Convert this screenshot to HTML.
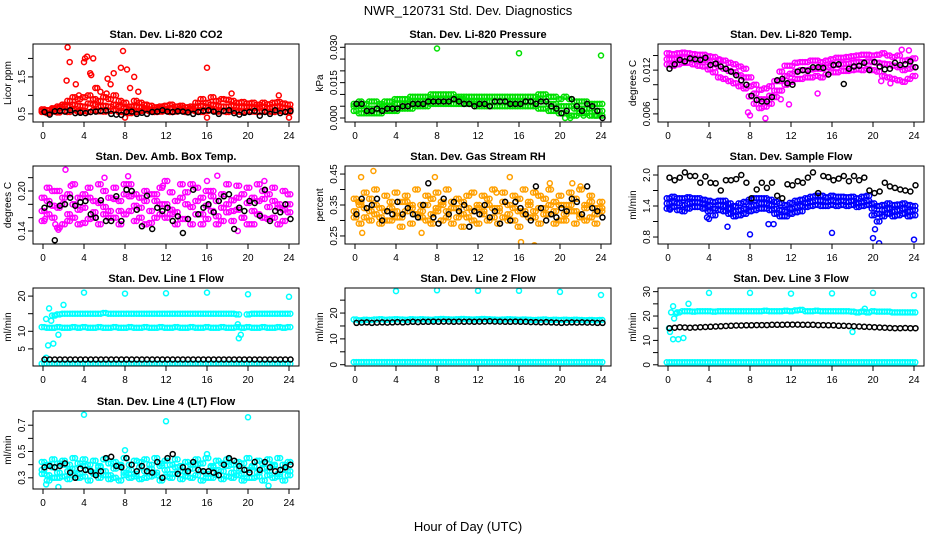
<!DOCTYPE html>
<html><head><meta charset="utf-8"><style>
body{margin:0;background:#fff;}
svg{display:block;font-family:"Liberation Sans",sans-serif;}
</style></head><body>
<svg id="chart" width="936" height="540" viewBox="0 0 936 540" xmlns="http://www.w3.org/2000/svg">
<rect width="936" height="540" fill="#fff"/>
<text x="468" y="15" text-anchor="middle" font-size="13">NWR_120731  Std. Dev. Diagnostics</text>
<text x="468" y="531" text-anchor="middle" font-size="13">Hour of Day (UTC)</text>
</svg>
<script>
const hours = Array.from({length:49},(_,i)=>i*0.5);
const xTicks = [0,4,8,12,16,20,24];

// Panel 1 CO2
const co2RedA=[0.55,0.52,0.56,0.54,0.58,0.55,0.6,0.56,0.58,0.55,0.6,0.57,0.56,0.58,0.6,0.55,0.56,0.52,0.55,0.58,0.6,0.57,0.55,0.56,0.58,0.55,0.56,0.58,0.55,0.6,0.57,0.55,0.58,0.6,0.56,0.57,0.55,0.58,0.56,0.55,0.58,0.56,0.55,0.57,0.56,0.55,0.58,0.56,0.55];
const co2RedB=[0.62,0.6,0.65,0.7,0.75,0.85,0.95,0.9,0.95,1.0,0.9,0.85,0.95,0.9,1.0,0.85,0.8,0.7,0.85,0.8,0.75,0.72,0.68,0.7,0.72,0.75,0.7,0.72,0.68,0.7,0.8,0.9,0.8,0.95,0.85,0.9,0.88,0.85,0.8,0.82,0.78,0.8,0.75,0.8,0.76,0.8,0.82,0.78,0.75];
const co2RedC=[0.58,0.6,0.62,0.65,0.7,0.7,0.75,0.72,0.7,0.78,0.75,0.7,0.72,0.7,0.75,0.7,0.65,0.62,0.7,0.68,0.65,0.62,0.62,0.65,0.63,0.66,0.62,0.65,0.6,0.64,0.7,0.72,0.68,0.75,0.72,0.7,0.7,0.72,0.7,0.68,0.7,0.66,0.68,0.7,0.66,0.68,0.7,0.66,0.64];
const co2OutHours=[2.4,2.6,4.0,4.1,4.3,4.6,4.9,5.1,5.6,6.3,6.6,6.9,7.6,7.8,8.2,8.9,9.3,2.3,3.2,3.5,4.7,5.3,6.2,8.5,16,18.4,23,24,16,8];
const co2OutVals=[2.3,1.9,1.9,2.0,2.05,1.6,2.0,1.2,1.1,1.45,1.3,1.6,1.75,2.2,1.7,1.5,1.1,1.4,1.3,1.0,1.55,1.2,1.05,1.2,1.75,1.05,1.0,0.4,0.4,0.4];
const co2Black=[0.55,0.48,0.57,0.58,0.56,0.6,0.52,0.53,0.52,0.55,0.56,0.58,0.59,0.5,0.48,0.47,0.55,0.56,0.5,0.53,0.5,0.55,0.56,0.6,0.56,0.55,0.57,0.56,0.54,0.5,0.55,0.58,0.6,0.56,0.5,0.58,0.6,0.52,0.48,0.53,0.55,0.58,0.45,0.55,0.5,0.6,0.52,0.55,0.58];

// Panel 2 Pressure
const presLo=[.003,.002,.002,.002,.002,.002,.003,.003,.003,.004,.004,.004,.005,.005,.005,.006,.006,.006,.006,.006,.006,.006,.006,.006,.005,.005,.005,.005,.005,.005,.005,.005,.005,.005,.005,.005,.004,.004,.003,.003,.002,.002,.001,.001,.002,.002,.001,.001,.001];
const presHi=[.006,.007,.006,.007,.007,.006,.007,.007,.008,.008,.008,.009,.009,.009,.009,.010,.010,.010,.010,.010,.009,.009,.009,.009,.009,.009,.009,.009,.009,.009,.009,.009,.009,.009,.009,.009,.010,.010,.009,.009,.008,.009,.008,.007,.007,.007,.006,.006,.006];
const presMid=[.005,.005,.004,.004,.004,.005,.005,.005,.006,.006,.006,.007,.007,.007,.007,.008,.008,.008,.008,.008,.008,.008,.007,.007,.007,.007,.007,.007,.007,.007,.007,.007,.007,.007,.007,.007,.008,.007,.006,.006,.005,.005,.005,.004,.004,.004,.004,.003,.003];
const presOutHours=[8,16,24,20.5,21,22.3,23.5];
const presOutVals=[.0295,.0275,.0265,.000,.000,.001,.001];
const presBlack=[.006,.006,.003,.003,.004,.003,.004,.004,.004,.005,.005,.006,.006,.006,.007,.007,.007,.007,.007,.008,.007,.006,.006,.005,.006,.006,.005,.007,.007,.007,.006,.006,.006,.007,.007,.006,.007,.007,.005,.004,.002,.003,.008,.005,.003,.006,.005,.003,.000];

// Panel 3 Li-820 Temp
const tempMid=[.0135,.0135,.0136,.0137,.0137,.0136,.0135,.0134,.0131,.0128,.0125,.0122,.0119,.0117,.0113,.0110,.0098,.0088,.0080,.0080,.0085,.0092,.0105,.0112,.0115,.0118,.0120,.0120,.0121,.0122,.0122,.0124,.0126,.0127,.0128,.0129,.0130,.0131,.0131,.0132,.0131,.0130,.0129,.0128,.0126,.0124,.0120,.0122,.0124];
const tempHi=[.0143,.0142,.0143,.0144,.0143,.0142,.0141,.0141,.0139,.0138,.0134,.0133,.0130,.0128,.0125,.0122,.0110,.0100,.0093,.0095,.0098,.0105,.0118,.0126,.0126,.0130,.0131,.0131,.0133,.0133,.0131,.0133,.0135,.0137,.0137,.0138,.0139,.0140,.0141,.0141,.0140,.0141,.0143,.0140,.0138,.0140,.0133,.0134,.0136];
const tempLo=[.0128,.0126,.0128,.0130,.0130,.0128,.0126,.0125,.0121,.0117,.0110,.0108,.0105,.0102,.0098,.0095,.0084,.0074,.0068,.0070,.0074,.0083,.0092,.0100,.0104,.0108,.0108,.0110,.0110,.0112,.0110,.0114,.0117,.0117,.0119,.0119,.0120,.0121,.0120,.0122,.0120,.0118,.0112,.0110,.0108,.0106,.0104,.0108,.0112];
const tempOutHours=[7.8,8.0,9.5,11,11.8,14.6,5.0,22.8,23.5,20.8,21.7];
const tempOutVals=[.0062,.0058,.0054,.0080,.0073,.0088,.0135,.0148,.0147,.0105,.0102];
const tempBlack=[.0122,.0128,.0134,.0132,.0136,.0135,.0134,.0137,.0127,.0129,.0125,.0122,.0118,.0113,.0106,.0100,.0085,.0079,.0077,.0077,.0083,.0106,.0108,.0102,.0100,.0118,.0120,.0119,.0124,.0124,.0123,.0114,.0127,.0128,.0101,.0122,.0125,.0126,.0130,.0120,.0131,.0125,.0121,.0122,.0130,.0127,.0128,.0132,.0124];

// Panel 4 Amb Box Temp
const ambA=[.170,.185,.160,.175,.190,.165,.180,.172,.195,.158,.168,.182,.176,.160,.188,.170,.165,.192,.178,.160,.185,.170,.195,.165,.180,.172,.168,.190,.158,.176,.185,.165,.178,.192,.162,.175,.168,.186,.172,.160,.182,.170,.165,.188,.176,.160,.180,.172,.168];
const ambB=[.155,.205,.178,.200,.150,.195,.160,.190,.152,.205,.185,.150,.200,.170,.205,.150,.195,.210,.155,.190,.200,.152,.185,.205,.160,.198,.150,.210,.180,.150,.205,.190,.158,.200,.150,.195,.210,.155,.190,.160,.205,.150,.185,.200,.158,.205,.175,.155,.195];
const ambC=[.190,.165,.200,.145,.180,.155,.210,.150,.175,.190,.160,.210,.165,.190,.160,.185,.210,.170,.195,.175,.150,.195,.160,.180,.215,.165,.185,.158,.198,.210,.165,.150,.200,.170,.185,.155,.180,.170,.208,.195,.150,.190,.210,.160,.195,.185,.150,.200,.180];
const ambOutHours=[2.2,1.2,1.5,6.0,8.3,11.7,16.0,19.0,21.6,17.0,2.7,0.2];
const ambOutVals=[.232,.150,.142,.220,.222,.208,.215,.140,.215,.223,.208,.158];
const ambBlack=[.175,.180,.126,.178,.180,.190,.178,.183,.185,.165,.160,.186,.155,.155,.192,.155,.202,.200,.172,.147,.193,.143,.175,.170,.175,.155,.162,.137,.158,.202,.165,.175,.180,.168,.185,.192,.195,.143,.175,.170,.185,.182,.163,.202,.155,.170,.168,.180,.158];

// Panel 5 RH
const rhA=[.33,.35,.31,.37,.32,.34,.30,.36,.33,.31,.38,.34,.32,.35,.30,.37,.33,.35,.31,.36,.34,.32,.38,.30,.35,.33,.37,.31,.34,.36,.32,.30,.37,.33,.35,.31,.38,.34,.32,.36,.30,.35,.33,.37,.31,.34,.36,.32,.34];
const rhB=[.37,.29,.39,.30,.40,.29,.38,.30,.39,.28,.36,.29,.40,.31,.38,.29,.39,.30,.40,.29,.37,.28,.34,.39,.29,.38,.30,.40,.29,.39,.30,.38,.28,.40,.31,.39,.29,.37,.40,.29,.38,.30,.39,.29,.40,.30,.38,.29,.36];
const rhC=[.31,.36,.34,.33,.35,.31,.33,.34,.31,.36,.33,.35,.32,.33,.35,.32,.34,.36,.33,.34,.31,.36,.31,.33,.34,.32,.35,.34,.33,.31,.35,.34,.33,.32,.36,.33,.34,.32,.35,.33,.35,.32,.35,.33,.32,.35,.31,.34,.33];
const rhOutHours=[0.6,0.7,1.8,6.5,7.8,15.1,16.2,17.5,22,19,0.3,13.8,21.2];
const rhOutVals=[.44,.26,.46,.26,.44,.44,.23,.22,.41,.42,.36,.39,.42];
const rhBlack=[.32,.37,.34,.35,.37,.30,.33,.32,.36,.32,.34,.32,.31,.35,.42,.31,.29,.37,.32,.36,.33,.35,.28,.33,.32,.35,.31,.33,.29,.36,.30,.36,.34,.32,.30,.41,.34,.30,.32,.31,.34,.33,.37,.36,.32,.41,.34,.33,.31];

// Panel 6 Sample Flow
const sfMid=[1.45,1.48,1.45,1.42,1.45,1.48,1.47,1.45,1.40,1.35,1.42,1.40,1.35,1.30,1.32,1.35,1.40,1.42,1.45,1.45,1.42,1.35,1.32,1.30,1.35,1.38,1.40,1.45,1.48,1.50,1.50,1.48,1.50,1.48,1.50,1.48,1.50,1.45,1.47,1.50,1.35,1.25,1.32,1.35,1.30,1.32,1.35,1.30,1.32];
const sfHi=[1.55,1.58,1.55,1.55,1.57,1.55,1.55,1.52,1.50,1.48,1.50,1.50,1.45,1.40,1.45,1.48,1.52,1.55,1.55,1.55,1.52,1.48,1.45,1.42,1.46,1.50,1.52,1.55,1.58,1.60,1.60,1.57,1.60,1.58,1.58,1.57,1.58,1.55,1.58,1.60,1.45,1.40,1.42,1.45,1.42,1.43,1.45,1.42,1.40];
const sfLo=[1.35,1.38,1.32,1.30,1.35,1.38,1.38,1.35,1.30,1.22,1.32,1.30,1.25,1.20,1.22,1.25,1.30,1.32,1.35,1.35,1.32,1.25,1.20,1.20,1.25,1.28,1.30,1.38,1.40,1.42,1.40,1.40,1.42,1.40,1.42,1.40,1.42,1.38,1.40,1.42,1.22,1.10,1.20,1.25,1.20,1.22,1.25,1.20,1.22];
const sfOutHours=[4,5.8,8.0,9.8,10.3,16.0,20.0,20.6,20.2,24,3.8,0.2];
const sfOutVals=[1.15,1.00,0.85,1.05,1.05,0.88,0.78,0.68,0.95,0.75,1.18,1.33];
const sfBlack=[1.95,1.9,1.95,2.05,1.98,1.98,1.85,1.97,1.85,1.84,1.7,1.9,1.9,1.92,2.0,1.85,1.55,1.72,1.85,1.75,1.85,1.6,1.55,1.82,1.8,1.88,1.85,1.95,2.05,1.65,1.98,1.96,1.9,1.93,1.98,1.88,1.98,1.9,1.95,1.7,1.65,1.68,1.85,1.78,1.75,1.72,1.7,1.68,1.8];

// Panel 7 Line 1
const l1Hi=[null,null,14.5,14.8,15,15,15,15,15,15,15,15,15.2,15,15,15,15,15,15,15,15,15,15,15,15,15,15,15,15,15,15,15,15,15,15,15,15,15,14.8,null,14.8,15,15,15,15,15,15,15,15];
const l1Mid=[11.2,11,11,11.2,11,11,11.2,11,11.2,11,11,11.2,11,11,11.2,11,11,11.2,11,11,11.2,11,11,11.2,11,11,11.2,11,11,11.2,11,11,11.2,11,11,11.2,11,11,11.2,11,11.2,11,11,11.2,11,11,11.2,11,11.2];
const l1Lo=[0.8,0.8,0.8,0.8,0.8,0.8,0.8,0.8,0.8,0.8,0.8,0.8,0.8,0.8,0.8,0.8,0.8,0.8,0.8,0.8,0.8,0.8,0.8,0.8,0.8,0.8,0.8,0.8,0.8,0.8,0.8,0.8,0.8,0.8,0.8,0.8,0.8,0.8,0.8,0.8,0.8,0.8,0.8,0.8,0.8,0.8,0.8,0.8,0.8];
const l1OutHours=[4,8,12,16,20,24,0.3,0.6,0.8,2,1.5,0.5,1,0.3,19,19.1,19.3,1.2];
const l1OutVals=[21,20.7,20.8,21,20.5,19.8,13.5,16.5,13,17.5,9,6,6.5,2.5,12,8,9,14.5];
const l1Black=[2,2,2,2,2,2,2,2,2,2,2,2,2,2,2,2,2,2,2,2,2,2,2,2,2,2,2,2,2,2,2,2,2,2,2,2,2,2,2,2,2,2,2,2,2,2,2,2,2];

// Panel 8 Line 2
const l2Hi=[17.5,17.2,17.4,17.3,17.5,17.6,17.4,17.5,17.6,17.5,17.4,17.6,17.5,17.6,17.5,17.4,17.6,17.7,17.6,17.5,17.6,17.7,17.6,17.5,17.6,17.7,17.6,17.5,17.4,17.5,17.6,17.5,17.4,17.5,17.4,17.3,17.4,17.5,17.3,17.4,17.3,17.4,17.3,17.4,17.3,17.2,17.3,17.2,17.3];
const l2Lo=[1,1,1,1,1,1,1,1,1,1,1,1,1,1,1,1,1,1,1,1,1,1,1,1,1,1,1,1,1,1,1,1,1,1,1,1,1,1,1,1,1,1,1,1,1,1,1,1,1];
const l2OutHours=[4,8,12,16,20,24];
const l2OutVals=[28.5,28.8,28.6,28.6,28.2,27];
const l2Black=[16.2,16.3,16.4,16.2,16.3,16.4,16.3,16.4,16.5,16.4,16.5,16.6,16.5,16.6,16.6,16.7,16.6,16.7,16.7,16.6,16.7,16.6,16.7,16.6,16.7,16.7,16.8,16.7,16.7,16.6,16.6,16.7,16.6,16.6,16.5,16.5,16.4,16.5,16.4,16.3,16.2,16.3,16.4,16.3,16.4,16.3,16.3,16.2,16.2];

// Panel 9 Line 3
const l3Hi=[null,null,21.5,22,22,21.8,22,22,22,21.8,22,22,22,22,22,22,22,22,22,22.2,22,22,22,22.2,22,22.3,22.5,22,22,22.2,22,22,22,22,22,22,21.8,21.5,21.8,21.5,22,21.8,21.8,21.8,21.5,21.5,21.5,21.5,21.5];
const l3Lo=[1,1,1,1,1,1,1,1,1,1,1,1,1,1,1,1,1,1,1,1,1,1,1,1,1,1,1,1,1,1,1,1,1,1,1,1,1,1,1,1,1,1,1,1,1,1,1,1,1];
const l3OutHours=[4,8,12,16,20,24,0.2,0.3,0.5,0.6,0.8,0.5,1,1.5,2,18,19.2,0.1];
const l3OutVals=[29.5,29.5,29.2,29.3,29.5,28.5,13.5,21.5,24,19,21,10.5,10.5,11,25,13.5,23,15];
const l3Black=[15,15.2,15.4,15.3,15.2,15.3,15.4,15.5,15.6,15.7,15.8,15.9,16.0,16.1,16.1,16.2,16.2,16.3,16.3,16.3,16.4,16.4,16.4,16.5,16.5,16.5,16.4,16.4,16.4,16.3,16.3,16.2,16.2,16.0,16.0,15.9,15.8,15.7,15.6,15.5,15.4,15.3,15.2,15.1,15.0,15.0,15.1,15.0,15.0];

// Panel 10 Line 4
const l4A=[.36,.32,.38,.34,.40,.35,.37,.33,.39,.36,.34,.38,.35,.32,.37,.40,.34,.36,.33,.38,.35,.37,.34,.39,.36,.33,.38,.35,.34,.37,.40,.35,.33,.38,.36,.35,.39,.34,.37,.33,.36,.38,.34,.37,.35,.39,.33,.36,.35];
const l4B=[.42,.28,.44,.30,.43,.29,.45,.30,.44,.28,.43,.30,.44,.29,.42,.28,.45,.30,.43,.29,.44,.31,.45,.28,.43,.30,.44,.29,.42,.30,.44,.28,.45,.30,.43,.29,.44,.30,.42,.28,.45,.30,.43,.28,.44,.30,.45,.28,.42];
const l4C=[.33,.40,.30,.41,.31,.40,.32,.41,.31,.40,.33,.39,.32,.41,.30,.39,.32,.40,.31,.42,.30,.40,.32,.41,.31,.40,.33,.39,.31,.40,.32,.41,.30,.39,.32,.41,.31,.40,.32,.41,.30,.39,.31,.41,.32,.40,.31,.40,.32];
const l4OutHours=[4,12,20,8,1.5,22,0.3,16];
const l4OutVals=[.78,.73,.76,.51,.23,.24,.25,.48];
const l4Black=[.38,.39,.38,.39,.41,.34,.30,.37,.36,.35,.32,.35,.45,.46,.39,.38,.45,.40,.35,.39,.35,.34,.42,.30,.45,.48,.33,.38,.35,.42,.36,.35,.35,.34,.32,.40,.45,.43,.39,.36,.34,.42,.36,.42,.38,.35,.36,.38,.40];

const COL=[33,345,658], ROW=[44,166,288,411], W=266, H=78;
const panels=[
 {name:'co2',title:'Stan. Dev. Li-820 CO2',ylab:'Licor ppm',c:0,r:0,ymin:0.28,ymax:2.39,ticks:[0.5,1.0,1.5,2.0],labels:['0.5','','1.5',''],color:'#ff0000',series:[co2RedA,co2RedC,co2RedB],oh:co2OutHours,ov:co2OutVals,black:co2Black},
 {name:'pressure',title:'Stan. Dev. Li-820 Pressure',ylab:'kPa',c:1,r:0,ymin:-0.0017,ymax:0.0314,ticks:[0,0.005,0.01,0.015,0.02,0.025,0.03],labels:['0.000','','','0.015','','','0.030'],color:'#00e000',series:[presLo,presMid,presHi],oh:presOutHours,ov:presOutVals,black:presBlack},
 {name:'li820-temp',title:'Stan. Dev. Li-820 Temp.',ylab:'degrees C',c:2,r:0,ymin:0.00489,ymax:0.01558,ticks:[0.006,0.008,0.010,0.012,0.014],labels:['0.006','','','0.012',''],color:'#ff00ff',series:[tempLo,tempMid,tempHi],oh:tempOutHours,ov:tempOutVals,black:tempBlack},
 {name:'amb-box-temp',title:'Stan. Dev. Amb. Box Temp.',ylab:'degrees C',c:0,r:1,ymin:0.1205,ymax:0.2375,ticks:[0.14,0.16,0.18,0.20,0.22],labels:['0.14','','','0.20',''],color:'#ff00ff',series:[ambA,ambB,ambC],oh:ambOutHours,ov:ambOutVals,black:ambBlack},
 {name:'gas-stream-rh',title:'Stan. Dev. Gas Stream RH',ylab:'percent',c:1,r:1,ymin:0.224,ymax:0.476,ticks:[0.25,0.30,0.35,0.40,0.45],labels:['0.25','','0.35','','0.45'],color:'#ffa000',series:[rhA,rhB,rhC],oh:rhOutHours,ov:rhOutVals,black:rhBlack},
 {name:'sample-flow',title:'Stan. Dev. Sample Flow',ylab:'ml/min',c:2,r:1,ymin:0.665,ymax:2.174,ticks:[0.8,1.1,1.4,1.7,2.0],labels:['0.8','','1.4','','2.0'],color:'#0000ff',series:[sfLo,sfHi,sfMid],oh:sfOutHours,ov:sfOutVals,black:sfBlack},
 {name:'line1-flow',title:'Stan. Dev. Line 1 Flow',ylab:'ml/min',c:0,r:2,ymin:0.14,ymax:22.3,ticks:[5,10,15,20],labels:['5','10','','20'],color:'#00ffff',series:[l1Lo,l1Mid,l1Hi],oh:l1OutHours,ov:l1OutVals,black:l1Black},
 {name:'line2-flow',title:'Stan. Dev. Line 2 Flow',ylab:'ml/min',c:1,r:2,ymin:-0.5,ymax:29.7,ticks:[0,5,10,15,20,25],labels:['0','','10','','20',''],color:'#00ffff',series:[l2Lo,l2Hi],oh:l2OutHours,ov:l2OutVals,black:l2Black},
 {name:'line3-flow',title:'Stan. Dev. Line 3 Flow',ylab:'ml/min',c:2,r:2,ymin:-0.5,ymax:31.5,ticks:[0,5,10,15,20,25,30],labels:['0','','10','','20','','30'],color:'#00ffff',series:[l3Lo,l3Hi],oh:l3OutHours,ov:l3OutVals,black:l3Black},
 {name:'line4-flow',title:'Stan. Dev. Line 4 (LT) Flow',ylab:'ml/min',c:0,r:3,ymin:0.215,ymax:0.808,ticks:[0.3,0.4,0.5,0.6,0.7],labels:['0.3','','0.5','','0.7'],color:'#00ffff',series:[l4A,l4B,l4C],oh:l4OutHours,ov:l4OutVals,black:l4Black}
];
// render-only horizontal offsets (pixels) to emulate the overplotting of the original
const smearDx=[-1.3,1.3];
const svg=document.getElementById('chart');
const NS='http://www.w3.org/2000/svg';
function mk(tag,attrs,parent){const e=document.createElementNS(NS,tag);for(const k in attrs)e.setAttribute(k,attrs[k]);parent.appendChild(e);return e;}
function dot(g,x,y,col){const c=mk('circle',{cx:x.toFixed(1),cy:y.toFixed(1),r:2.5,fill:'none',stroke:col,'stroke-width':1.5},g);

}
panels.forEach(p=>{
 const L=COL[p.c],T=ROW[p.r],x0=L+10,x1=L+W-10;
 const sx=h=>x0+h/24*(x1-x0);
 const sy=v=>T+(p.ymax-v)/(p.ymax-p.ymin)*H;
 const g=mk('g',{},svg);
 
 
 const cl=mk('clipPath',{id:'cp-'+p.name},g);mk('rect',{x:L,y:T,width:W,height:H},cl);
 const t=mk('text',{x:L+W/2,y:T-6,'text-anchor':'middle','font-size':11,'font-weight':'bold'},g);t.textContent=p.title;
 
 
 const yl=mk('text',{x:0,y:0,'text-anchor':'middle','font-size':10,transform:`translate(${L-22},${T+H/2}) rotate(-90)`},g);yl.textContent=p.ylab;
 
 
 const pts=mk('g',{'clip-path':`url(#cp-${p.name})`},g);
 
 
 p.series.forEach(s=>s.forEach((v,i)=>{if(v===null)return;
   const bx=sx(hours[i]),by=sy(v);
   smearDx.forEach(dx=>dot(pts,bx+dx,by,p.color));}));
 p.oh.forEach((h,i)=>dot(pts,sx(h),sy(p.ov[i]),p.color));
 p.black.forEach((v,i)=>dot(pts,sx(hours[i]+0.15),sy(v),'#000'));
 const box=mk('rect',{x:L,y:T,width:W,height:H,fill:'none',stroke:'#000','stroke-width':1},g);
 
 
 xTicks.forEach(h=>{const x=sx(h);mk('line',{x1:x,y1:T+H,x2:x,y2:T+H+5,stroke:'#000'},g);
  const tl=mk('text',{x:x,y:T+H+17,'text-anchor':'middle','font-size':10},g);tl.textContent=h;
  
  });
 p.ticks.forEach((v,i)=>{const y=sy(v);mk('line',{x1:L-5,y1:y,x2:L,y2:y,stroke:'#000'},g);
  if(p.labels[i]){const tl=mk('text',{x:0,y:0,'text-anchor':'middle','font-size':10,transform:`translate(${L-8},${y}) rotate(-90)`},g);tl.textContent=p.labels[i];
  
  }});
});
</script>
</body></html>
